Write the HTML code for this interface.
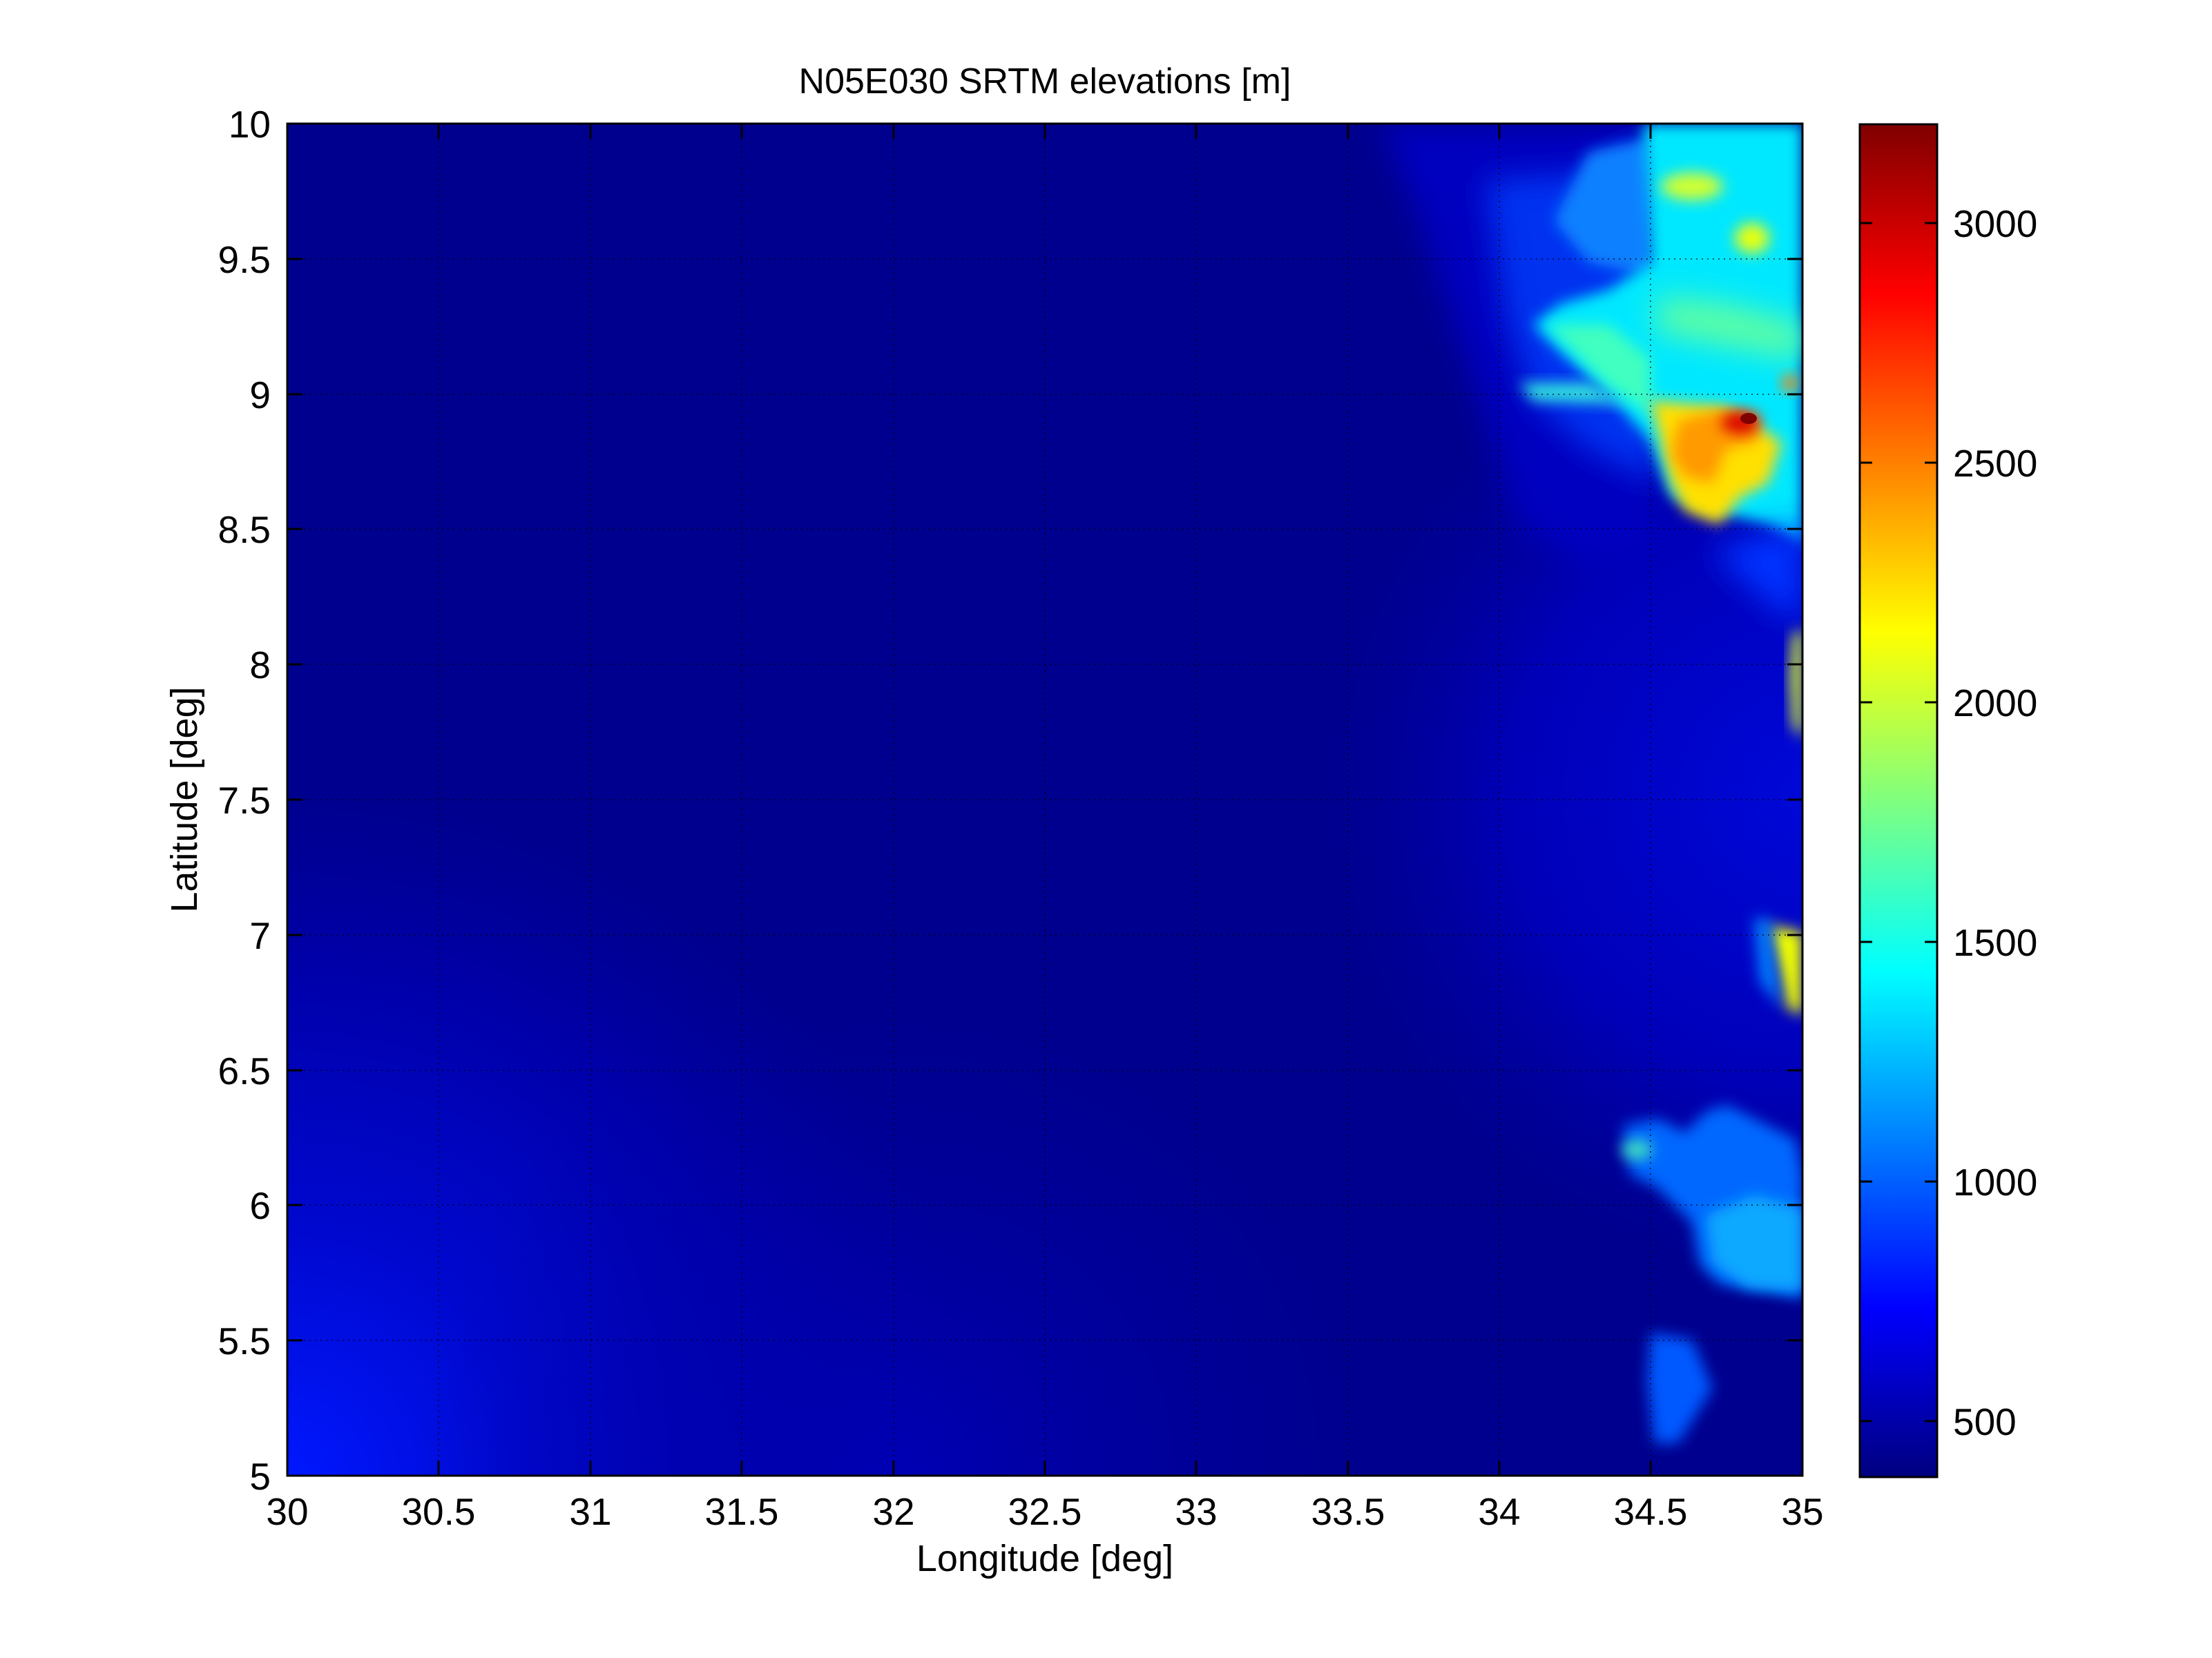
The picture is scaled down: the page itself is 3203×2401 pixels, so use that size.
<!DOCTYPE html>
<html><head><meta charset="utf-8"><style>
html,body{margin:0;padding:0;background:#fff;}
svg{display:block;font-family:"Liberation Sans",Arial,sans-serif;}
</style></head><body>
<svg width="3203" height="2401" viewBox="0 0 3203 2401" xmlns="http://www.w3.org/2000/svg">
<defs>
<clipPath id="pc"><rect x="416" y="179" width="2194" height="1958"/></clipPath>
<filter id="b2" x="-50%" y="-50%" width="200%" height="200%"><feGaussianBlur stdDeviation="10"/></filter>
<filter id="b1" x="-50%" y="-50%" width="200%" height="200%"><feGaussianBlur stdDeviation="22"/></filter>
<radialGradient id="bl" cx="416" cy="2137" r="1000" gradientUnits="userSpaceOnUse">
<stop offset="0" stop-color="#0018ff"/>
<stop offset="0.35" stop-color="#0008d0"/>
<stop offset="0.75" stop-color="#0000a8"/>
<stop offset="1" stop-color="#0000a0" stop-opacity="0"/>
</radialGradient>
<radialGradient id="br" cx="2610" cy="1150" r="700" gradientUnits="userSpaceOnUse">
<stop offset="0" stop-color="#0008d8"/>
<stop offset="0.6" stop-color="#0000b8"/>
<stop offset="1" stop-color="#0000a0" stop-opacity="0"/>
</radialGradient>
<radialGradient id="bb" cx="1300" cy="2137" r="700" gradientUnits="userSpaceOnUse">
<stop offset="0" stop-color="#0000b4"/>
<stop offset="1" stop-color="#0000a0" stop-opacity="0"/>
</radialGradient>
<linearGradient id="jet" x1="0" y1="1" x2="0" y2="0">
<stop offset="0" stop-color="#000080"/>
<stop offset="0.125" stop-color="#0000ff"/>
<stop offset="0.375" stop-color="#00ffff"/>
<stop offset="0.625" stop-color="#ffff00"/>
<stop offset="0.875" stop-color="#ff0000"/>
<stop offset="1" stop-color="#800000"/>
</linearGradient>
</defs>
<rect width="3203" height="2401" fill="#fff"/>
<g clip-path="url(#pc)">
<rect x="416" y="179" width="2194" height="1958" fill="#00008e"/>
<rect x="416" y="1000" width="1500" height="1137" fill="url(#bl)"/>
<rect x="600" y="1400" width="1500" height="737" fill="url(#bb)"/>
<rect x="1800" y="179" width="810" height="1958" fill="url(#br)"/>
<!-- north blue zone -->
<path d="M2000 179 L2400 179 L2400 800 L2300 820 L2200 760 L2150 600 L2100 450 L2050 300Z" fill="#0000c0" filter="url(#b1)"/>
<path d="M2150 260 L2300 250 L2380 200 L2400 700 L2300 650 L2220 580 L2180 460Z" fill="#0030f0" filter="url(#b1)"/>
<path d="M2300 220 L2390 200 L2390 400 L2300 380 L2250 320Z" fill="#1080ff" filter="url(#b2)"/>
<!-- cyan plateau -->
<path d="M2380 179 L2610 179 L2610 790 L2560 760 L2480 740 L2420 720 L2390 640 L2330 570 L2260 510 L2220 470 L2260 440 L2330 420 L2390 380Z" fill="#00e8ff" filter="url(#b2)"/>
<path d="M2240 470 L2330 470 L2390 520 L2390 600 L2330 560Z" fill="#40ffc0" filter="url(#b2)"/>
<path d="M2200 555 L2300 555 L2360 585 L2220 580Z" fill="#30e8e0" filter="url(#b2)"/>
<path d="M2400 430 L2500 440 L2610 470 L2610 520 L2500 500 L2400 480Z" fill="#60ffa0" filter="url(#b1)"/>
<!-- yellow patches -->
<ellipse cx="2450" cy="270" rx="45" ry="20" fill="#d0ff30" filter="url(#b2)"/>
<ellipse cx="2537" cy="345" rx="25" ry="22" fill="#e8ff10" filter="url(#b2)"/>
<path d="M2390 580 L2500 590 L2580 640 L2560 700 L2520 720 L2490 760 L2440 740 L2420 700Z" fill="#ffe000" filter="url(#b2)"/>
<path d="M2430 610 L2480 595 L2545 600 L2545 640 L2500 650 L2480 700 L2440 690 L2420 660Z" fill="#ff9a00" filter="url(#b2)"/>
<ellipse cx="2520" cy="612" rx="28" ry="16" fill="#d80000" filter="url(#b2)"/>
<ellipse cx="2532" cy="606" rx="12" ry="8" fill="#800000"/>
<ellipse cx="2592" cy="555" rx="12" ry="12" fill="#ff8000" filter="url(#b2)"/>
<path d="M2480 800 L2530 780 L2610 760 L2610 900 L2570 880Z" fill="#0030ff" filter="url(#b1)"/>
<!-- right edge yellow strips -->
<path d="M2596 920 L2610 910 L2610 1070 L2596 1050 L2592 980Z" fill="#e0ff20" filter="url(#b2)"/>
<path d="M2560 1340 L2610 1350 L2610 1470 L2588 1460 L2575 1400Z" fill="#f0ff00" filter="url(#b2)"/>
<path d="M2540 1330 L2562 1330 L2578 1460 L2548 1420Z" fill="#0080ff" filter="url(#b2)"/>
<!-- bottom right light blue -->
<path d="M2350 1630 L2400 1620 L2440 1640 L2470 1610 L2500 1600 L2540 1620 L2600 1650 L2610 1700 L2610 1880 L2560 1870 L2490 1860 L2460 1830 L2450 1770 L2400 1720 L2360 1700Z" fill="#0068ff" filter="url(#b2)"/>
<path d="M2470 1760 L2540 1730 L2610 1750 L2610 1870 L2530 1865 L2480 1830Z" fill="#10a8ff" filter="url(#b2)"/>
<ellipse cx="2370" cy="1665" rx="22" ry="14" fill="#40e0c0" filter="url(#b2)"/>
<path d="M2390 1930 L2450 1940 L2480 2010 L2430 2090 L2395 2090 L2385 2000Z" fill="#0058ff" filter="url(#b2)"/>
<!-- grid -->
<g stroke="#000" stroke-width="2" stroke-dasharray="2,6" opacity="0.6">
<line x1="416" y1="375" x2="2610" y2="375"/><line x1="416" y1="571" x2="2610" y2="571"/>
<line x1="416" y1="766" x2="2610" y2="766"/><line x1="416" y1="962" x2="2610" y2="962"/>
<line x1="416" y1="1158" x2="2610" y2="1158"/><line x1="416" y1="1354" x2="2610" y2="1354"/>
<line x1="416" y1="1550" x2="2610" y2="1550"/><line x1="416" y1="1745" x2="2610" y2="1745"/>
<line x1="416" y1="1941" x2="2610" y2="1941"/>
<line x1="635" y1="179" x2="635" y2="2137"/><line x1="855" y1="179" x2="855" y2="2137"/>
<line x1="1074" y1="179" x2="1074" y2="2137"/><line x1="1294" y1="179" x2="1294" y2="2137"/>
<line x1="1513" y1="179" x2="1513" y2="2137"/><line x1="1732" y1="179" x2="1732" y2="2137"/>
<line x1="1952" y1="179" x2="1952" y2="2137"/><line x1="2171" y1="179" x2="2171" y2="2137"/>
<line x1="2390" y1="179" x2="2390" y2="2137"/>
</g>
</g>
<rect x="416" y="179" width="2194" height="1958" fill="none" stroke="#000" stroke-width="3"/>
<g stroke="#000" stroke-width="3">
<path d="M416 2137v-22M635 2137v-22M855 2137v-22M1074 2137v-22M1294 2137v-22M1513 2137v-22M1732 2137v-22M1952 2137v-22M2171 2137v-22M2390 2137v-22M2610 2137v-22"/>
<path d="M416 179v22M635 179v22M855 179v22M1074 179v22M1294 179v22M1513 179v22M1732 179v22M1952 179v22M2171 179v22M2390 179v22M2610 179v22"/>
<path d="M416 179h22M416 375h22M416 571h22M416 766h22M416 962h22M416 1158h22M416 1354h22M416 1550h22M416 1745h22M416 1941h22M416 2137h22"/>
<path d="M2610 179h-22M2610 375h-22M2610 571h-22M2610 766h-22M2610 962h-22M2610 1158h-22M2610 1354h-22M2610 1550h-22M2610 1745h-22M2610 1941h-22M2610 2137h-22"/>
</g>
<g font-size="55" fill="#000" text-anchor="middle">
<text x="416" y="2208">30</text><text x="635" y="2208">30.5</text><text x="855" y="2208">31</text>
<text x="1074" y="2208">31.5</text><text x="1294" y="2208">32</text><text x="1513" y="2208">32.5</text>
<text x="1732" y="2208">33</text><text x="1952" y="2208">33.5</text><text x="2171" y="2208">34</text>
<text x="2390" y="2208">34.5</text><text x="2610" y="2208">35</text>
</g>
<g font-size="55" fill="#000" text-anchor="end">
<text x="392" y="199">10</text><text x="392" y="395">9.5</text><text x="392" y="591">9</text>
<text x="392" y="786">8.5</text><text x="392" y="982">8</text><text x="392" y="1178">7.5</text>
<text x="392" y="1374">7</text><text x="392" y="1570">6.5</text><text x="392" y="1765">6</text>
<text x="392" y="1961">5.5</text><text x="392" y="2157">5</text>
</g>
<text x="1513" y="2275" font-size="54" text-anchor="middle">Longitude [deg]</text>
<text x="0" y="0" font-size="54" text-anchor="middle" transform="translate(285,1158) rotate(-90)">Latitude [deg]</text>
<text x="1513" y="135" font-size="52" text-anchor="middle">N05E030 SRTM elevations [m]</text>
<rect x="2693" y="180" width="112" height="1959" fill="url(#jet)"/>
<rect x="2693" y="180" width="112" height="1959" fill="none" stroke="#000" stroke-width="3"/>
<g stroke="#000" stroke-width="3">
<path d="M2693 2058h18M2693 1711h18M2693 1364h18M2693 1017h18M2693 670h18M2693 323h18"/>
<path d="M2805 2058h-18M2805 1711h-18M2805 1364h-18M2805 1017h-18M2805 670h-18M2805 323h-18"/>
</g>
<g font-size="55" fill="#000">
<text x="2828" y="2078">500</text><text x="2828" y="1731">1000</text><text x="2828" y="1384">1500</text>
<text x="2828" y="1037">2000</text><text x="2828" y="690">2500</text><text x="2828" y="343">3000</text>
</g>
</svg>
</body></html>
